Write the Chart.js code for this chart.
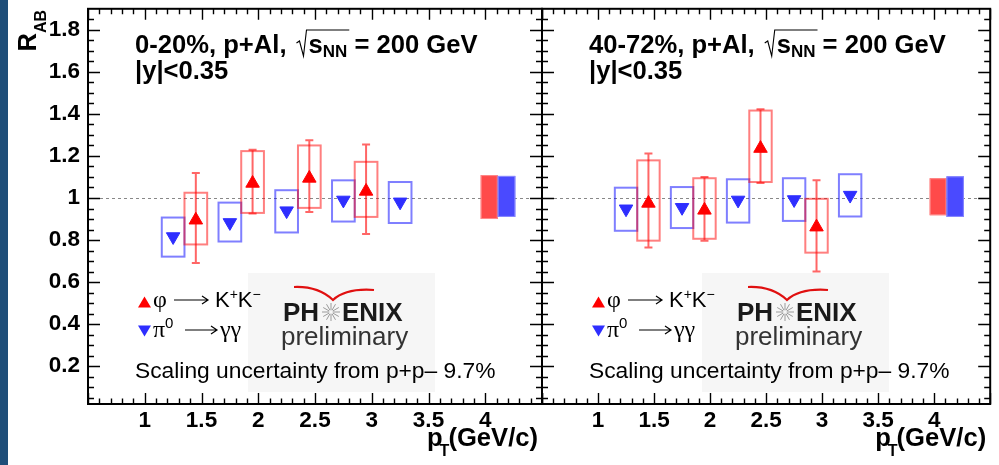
<!DOCTYPE html>
<html>
<head>
<meta charset="utf-8">
<script src="https://cdn.jsdelivr.net/npm/chart.js@4.4.1/dist/chart.umd.min.js"></script>
<style>
  html, body { margin: 0; padding: 0; background: #fff; }
  #wrap { position: relative; width: 999px; height: 465px; overflow: hidden; background: #fff; }
  #band { position: absolute; left: 0; top: 0; width: 8px; height: 465px; background: #1f4e79; }
  canvas { position: absolute; top: 0; }
  #c1 { left: 0; }
  #c2 { left: 500px; }
</style>
</head>
<body>
<div id="wrap">
  <div id="band"></div>
  <canvas id="c1" width="560" height="465"></canvas>
  <canvas id="c2" width="499" height="465"></canvas>
</div>
<script>
// pT bin centres
const piPt = [1.25, 1.75, 2.25, 2.75, 3.25];
const phiPt = [1.45, 1.95, 2.45, 2.95];
const sysHalfWidth = 0.1;

// 0-20%
const piR_c0 = [0.816, 0.883, 0.939, 0.990, 0.981];
const piSysLo_c0 = [0.721, 0.793, 0.836, 0.888, 0.881];
const piSysHi_c0 = [0.907, 0.978, 1.037, 1.084, 1.076];
const phiR_c0 = [0.895, 1.070, 1.094, 1.032];
const phiErrLo_c0 = [0.691, 0.926, 0.933, 0.829];
const phiErrHi_c0 = [1.119, 1.229, 1.275, 1.255];
const phiSysLo_c0 = [0.779, 0.929, 0.953, 0.910];
const phiSysHi_c0 = [1.025, 1.223, 1.250, 1.172];
const phiNorm_c0 = [0.900, 1.109];
const piNorm_c0 = [0.910, 1.105];

// 40-72%
const piR_c1 = [0.948, 0.955, 0.990, 0.992, 1.013];
const piSysLo_c1 = [0.844, 0.857, 0.883, 0.891, 0.912];
const piSysHi_c1 = [1.049, 1.052, 1.089, 1.094, 1.113];
const phiR_c1 = [0.975, 0.942, 1.236, 0.862];
const phiErrLo_c1 = [0.765, 0.797, 1.071, 0.650];
const phiErrHi_c1 = [1.212, 1.100, 1.422, 1.084];
const phiSysLo_c1 = [0.797, 0.806, 1.076, 0.740];
const phiSysHi_c1 = [1.179, 1.094, 1.416, 0.996];
const phiNorm_c1 = [0.918, 1.094];
const piNorm_c1 = [0.910, 1.103];

// normalisation boxes (pT extent)
const normPtPhi = [3.96, 4.11];
const normPtPi = [4.11, 4.265];

const xTicks = [1, 1.5, 2, 2.5, 3, 3.5, 4];
const yTicks = [0.2, 0.4, 0.6, 0.8, 1, 1.2, 1.4, 1.6, 1.8];

const SANS = '"Liberation Sans", Arial, sans-serif';
const SERIF = '"Liberation Serif", "Times New Roman", serif';
const B26 = 'bold 25.6px ' + SANS;
const B17 = 'bold 17px ' + SANS;
const RED = '#ff0000';
const BLUE = '#2e2eff';

function runsWidth(ctx, runs) {
  let w = 0;
  for (const r of runs) { ctx.font = r.f; w += ctx.measureText(r.t).width + (r.kx || 0); }
  return w;
}
function drawRuns(ctx, x, y, runs, align) {
  if (align === 'right') x -= runsWidth(ctx, runs);
  for (const r of runs) {
    ctx.font = r.f;
    ctx.fillText(r.t, x, y + (r.dy || 0));
    x += ctx.measureText(r.t).width + (r.kx || 0);
  }
  return x;
}
function tri(ctx, cx, cy, w, h, down) {
  ctx.beginPath();
  if (down) { ctx.moveTo(cx - w / 2, cy - h / 2); ctx.lineTo(cx + w / 2, cy - h / 2); ctx.lineTo(cx, cy + h / 2); }
  else { ctx.moveTo(cx - w / 2, cy + h / 2); ctx.lineTo(cx + w / 2, cy + h / 2); ctx.lineTo(cx, cy - h / 2); }
  ctx.closePath();
  ctx.fill();
}
function arrow(ctx, x0, x1, y) {
  ctx.save();
  ctx.strokeStyle = '#000'; ctx.lineWidth = 1.2;
  ctx.beginPath();
  ctx.moveTo(x0, y); ctx.lineTo(x1, y);
  ctx.moveTo(x1 - 6, y - 4); ctx.lineTo(x1, y); ctx.lineTo(x1 - 6, y + 4);
  ctx.stroke();
  ctx.restore();
}

function makeDecor(p) {
  return {
    id: 'decor' + p.id,
    beforeDatasetsDraw(chart) {
      const { ctx, chartArea: a, scales: { x, y } } = chart;
      const L = a.left;
      ctx.save();
      // logo backdrop
      ctx.fillStyle = '#f6f6f6';
      ctx.fillRect(L + 160, 273, 187, 119);
      // reference line at 1
      ctx.strokeStyle = '#888'; ctx.lineWidth = 1; ctx.setLineDash([3, 3]);
      ctx.beginPath();
      ctx.moveTo(a.left, Math.round(y.getPixelForValue(1)) + 0.5);
      ctx.lineTo(a.right, Math.round(y.getPixelForValue(1)) + 0.5);
      ctx.stroke();
      ctx.setLineDash([]);
      // systematic boxes
      ctx.lineWidth = 2;
      ctx.strokeStyle = 'rgba(0,0,255,0.5)';
      piPt.forEach((pt, i) => {
        const x0 = x.getPixelForValue(pt - sysHalfWidth), x1 = x.getPixelForValue(pt + sysHalfWidth);
        const y0 = y.getPixelForValue(p.piSysHi[i]), y1 = y.getPixelForValue(p.piSysLo[i]);
        ctx.strokeRect(x0, y0, x1 - x0, y1 - y0);
      });
      ctx.strokeStyle = 'rgba(255,0,0,0.5)';
      phiPt.forEach((pt, i) => {
        const x0 = x.getPixelForValue(pt - sysHalfWidth), x1 = x.getPixelForValue(pt + sysHalfWidth);
        const y0 = y.getPixelForValue(p.phiSysHi[i]), y1 = y.getPixelForValue(p.phiSysLo[i]);
        ctx.strokeRect(x0, y0, x1 - x0, y1 - y0);
      });
      // stat error bars
      ctx.strokeStyle = 'rgba(255,0,0,0.6)';
      ctx.beginPath();
      phiPt.forEach((pt, i) => {
        const px = x.getPixelForValue(pt);
        const yh = y.getPixelForValue(p.phiErrHi[i]), yl = y.getPixelForValue(p.phiErrLo[i]);
        ctx.moveTo(px, yh); ctx.lineTo(px, yl);
        ctx.moveTo(px - 4, yh); ctx.lineTo(px + 4, yh);
        ctx.moveTo(px - 4, yl); ctx.lineTo(px + 4, yl);
      });
      ctx.stroke();
      // normalisation boxes
      const nb = (pts, vals, fill, edge) => {
        const x0 = x.getPixelForValue(pts[0]), x1 = x.getPixelForValue(pts[1]);
        const y0 = y.getPixelForValue(vals[1]), y1 = y.getPixelForValue(vals[0]);
        ctx.fillStyle = fill; ctx.fillRect(x0, y0, x1 - x0, y1 - y0);
        ctx.strokeStyle = edge; ctx.lineWidth = 1; ctx.strokeRect(x0 + 0.5, y0 + 0.5, x1 - x0 - 1, y1 - y0 - 1);
      };
      nb(normPtPhi, p.phiNorm, '#ff4a4a', '#ff8a8a');
      nb(normPtPi, p.piNorm, '#4a4aff', '#8a8aff');
      ctx.restore();
    },
    afterDraw(chart) {
      const { ctx, chartArea: a, scales: { x, y } } = chart;
      const L = a.left;
      ctx.save();
      // frame with inward ticks
      ctx.strokeStyle = '#000'; ctx.lineWidth = 1.4;
      ctx.beginPath();
      for (let i = 5; i <= 45; i++) {
        const px = Math.round(x.getPixelForValue(i / 10)) + 0.5;
        const len = i % 5 === 0 ? 11 : 5.5;
        ctx.moveTo(px, a.bottom); ctx.lineTo(px, a.bottom - len);
        ctx.moveTo(px, a.top); ctx.lineTo(px, a.top + len);
      }
      for (let i = 1; i <= 38; i++) {
        const v = i * 0.05;
        if (v < y.min || v > y.max) continue;
        const py = Math.round(y.getPixelForValue(v)) + 0.5;
        const len = i % 4 === 0 ? 12 : 6;
        ctx.moveTo(a.left, py); ctx.lineTo(a.left + len, py);
        ctx.moveTo(a.right, py); ctx.lineTo(a.right - len, py);
      }
      ctx.stroke();
      ctx.lineWidth = 2;
      ctx.strokeRect(a.left, a.top, a.width, a.height);

      ctx.fillStyle = '#000';
      ctx.textBaseline = 'alphabetic';
      ctx.textAlign = 'left';
      // title
      let tx = drawRuns(ctx, L + 47, 53, [{ t: p.label + ', p+Al,', f: B26 }]) + p.gap;
      const sx = tx;
      tx = drawRuns(ctx, tx + 12, 53, [{ t: 's', f: B26 }, { t: 'NN', f: B17, dy: 4 }]);
      ctx.save();
      ctx.lineWidth = 1.1; ctx.strokeStyle = '#000';
      ctx.beginPath();
      ctx.moveTo(sx, 43); ctx.lineTo(sx + 3, 41); ctx.lineTo(sx + 7, 56); ctx.lineTo(sx + 10, 30); ctx.lineTo(tx + 2, 30);
      ctx.stroke();
      ctx.restore();
      drawRuns(ctx, tx, 53, [{ t: ' = 200 GeV', f: B26 }]);
      drawRuns(ctx, L + 47, 79, [{ t: '|y|<0.35', f: B26 }]);

      // legend
      ctx.fillStyle = RED; tri(ctx, L + 56.5, 302, 13, 11, false);
      ctx.fillStyle = BLUE; tri(ctx, L + 56.5, 331, 13, 11, true);
      ctx.fillStyle = '#000';
      drawRuns(ctx, L + 65, 307, [{ t: 'φ', f: '24px ' + SERIF }]);
      arrow(ctx, L + 86, L + 120, 300);
      drawRuns(ctx, L + 127, 307, [
        { t: 'K', f: '22px ' + SANS }, { t: '+', f: '14px ' + SANS, dy: -8 },
        { t: 'K', f: '22px ' + SANS }, { t: '−', f: '14px ' + SANS, dy: -8 }]);
      drawRuns(ctx, L + 65, 337, [{ t: 'π', f: '24px ' + SERIF }, { t: '0', f: '15px ' + SANS, dy: -9 }]);
      arrow(ctx, L + 97, L + 129, 330);
      drawRuns(ctx, L + 132, 337, [{ t: 'γγ', f: '24px ' + SERIF }]);

      // PHENIX logo
      ctx.strokeStyle = '#e01010'; ctx.lineWidth = 2.2;
      ctx.beginPath();
      ctx.moveTo(L + 206, 287); ctx.quadraticCurveTo(L + 230, 286, L + 245, 300);
      ctx.quadraticCurveTo(L + 258, 288, L + 286, 290);
      ctx.stroke();
      ctx.fillStyle = '#1a1a1a';
      drawRuns(ctx, L + 195, 321, [{ t: 'PH', f: 'bold 26px ' + SANS }]);
      drawRuns(ctx, L + 254, 321, [{ t: 'ENIX', f: 'bold 26px ' + SANS }]);
      ctx.strokeStyle = '#9a9a9a'; ctx.lineWidth = 1;
      ctx.beginPath();
      for (let k = 0; k < 12; k++) {
        const ang = k * Math.PI / 6;
        ctx.moveTo(L + 243 + Math.cos(ang) * 2, 312 + Math.sin(ang) * 2);
        ctx.lineTo(L + 243 + Math.cos(ang) * 9, 312 + Math.sin(ang) * 9);
      }
      ctx.stroke();
      ctx.fillStyle = '#333';
      drawRuns(ctx, L + 193, 345, [{ t: 'preliminary', f: '26px ' + SANS }]);

      ctx.fillStyle = '#000';
      drawRuns(ctx, L + 47, 378, [{ t: 'Scaling uncertainty from p+p– 9.7%', f: '22.8px ' + SANS }]);

      // x title
      drawRuns(ctx, a.right - 4, 446, [
        { t: 'p', f: B26, kx: -3 }, { t: 'T', f: 'bold 16px ' + SANS, dy: 10, kx: -1 }, { t: '(GeV/c)', f: B26 }], 'right');

      // y title
      if (p.yTitle) {
        ctx.save();
        ctx.translate(36, 10);
        ctx.rotate(-Math.PI / 2);
        const runs = [{ t: 'R', f: B26 }, { t: 'AB', f: 'bold 16px ' + SANS, dy: 10 }];
        drawRuns(ctx, 0, 0, runs, 'right');
        ctx.restore();
      }
      ctx.restore();
    }
  };
}

function makeChart(id, pad, showY, p) {
  const tickFont = { family: SANS, weight: 'bold', size: 22.5 };
  return new Chart(document.getElementById(id), {
    type: 'scatter',
    data: {
      datasets: [
        {
          data: phiPt.map((v, i) => ({ x: v, y: p.phiR[i] })),
          pointStyle: 'triangle', pointRadius: 7.8, pointBorderWidth: 1,
          pointBackgroundColor: RED, pointBorderColor: RED
        },
        {
          data: piPt.map((v, i) => ({ x: v, y: p.piR[i] })),
          pointStyle: 'triangle', pointRotation: 180, pointRadius: 7.8, pointBorderWidth: 1,
          pointBackgroundColor: BLUE, pointBorderColor: BLUE
        }
      ]
    },
    options: {
      responsive: false, animation: false, events: [],
      layout: { padding: pad },
      plugins: { legend: { display: false }, tooltip: { enabled: false } },
      scales: {
        x: {
          type: 'linear', min: 0.5, max: 4.5,
          grid: { display: false, drawTicks: false }, border: { display: false },
          afterBuildTicks: s => { s.ticks = xTicks.map(v => ({ value: v })); },
          afterFit: s => { s.height = 61; s.paddingLeft = 0; s.paddingRight = 0; },
          ticks: { callback: v => String(v), font: tickFont, color: '#000', padding: 3, maxRotation: 0, autoSkip: false }
        },
        y: {
          type: 'linear', min: 0.02, max: 1.9, display: showY,
          grid: { display: false, drawTicks: false }, border: { display: false },
          afterBuildTicks: s => { s.ticks = yTicks.map(v => ({ value: v })); },
          afterFit: s => { s.width = showY ? 88 : 0; s.paddingTop = 0; s.paddingBottom = 0; },
          ticks: { callback: v => String(v), font: tickFont, color: '#000', padding: 8, autoSkip: false }
        }
      }
    },
    plugins: [makeDecor(p)]
  });
}

makeChart('c1', { left: 0, top: 7, right: 18, bottom: 0 }, true, {
  id: 0, label: '0-20%', yTitle: true, gap: 10,
  piR: piR_c0, piSysLo: piSysLo_c0, piSysHi: piSysHi_c0,
  phiR: phiR_c0, phiErrLo: phiErrLo_c0, phiErrHi: phiErrHi_c0,
  phiSysLo: phiSysLo_c0, phiSysHi: phiSysHi_c0,
  phiNorm: phiNorm_c0, piNorm: piNorm_c0
});
makeChart('c2', { left: 42, top: 7, right: 3, bottom: 0 }, false, {
  id: 1, label: '40-72%', yTitle: false, gap: 10,
  piR: piR_c1, piSysLo: piSysLo_c1, piSysHi: piSysHi_c1,
  phiR: phiR_c1, phiErrLo: phiErrLo_c1, phiErrHi: phiErrHi_c1,
  phiSysLo: phiSysLo_c1, phiSysHi: phiSysHi_c1,
  phiNorm: phiNorm_c1, piNorm: piNorm_c1
});
</script>
</body>
</html>
